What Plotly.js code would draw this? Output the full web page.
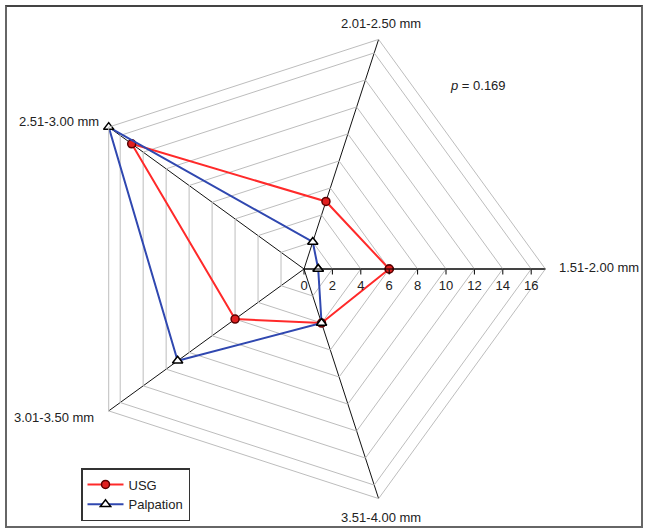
<!DOCTYPE html>
<html>
<head>
<meta charset="utf-8">
<script src="https://cdn.plot.ly/plotly-3.0.1.min.js"></script>
<style>
html,body{margin:0;padding:0;background:#fff;}
#wrap{position:relative;width:646px;height:531px;}
#plot{width:646px;height:531px;}
#frame{position:absolute;left:5px;top:5px;width:638px;height:523px;border:2px solid #666;border-top-color:#444;box-sizing:border-box;pointer-events:none;}
</style>
</head>
<body>
<div id="wrap"><div id="plot"></div><div id="frame"></div></div>
<script>
const categories = ["1.51-2.00 mm", "2.01-2.50 mm", "2.51-3.00 mm", "3.01-3.50 mm", "3.51-4.00 mm"];
const usgValues = [6, 5, 15, 6, 4];
const palpationValues = [1, 2, 17, 11, 4];
const radialTicks = [0, 2, 4, 6, 8, 10, 12, 14, 16];
const radialTickText = ["0", "2", "4", "6", "8", "10", "12", "14", "16"];

function closed(a){ return a.concat([a[0]]); }

const traces = [
  {
    type: 'scatterpolar', name: 'USG',
    r: closed(usgValues), theta: closed(categories),
    mode: 'lines+markers',
    line: {color: '#ff2a2a', width: 2},
    marker: {symbol: 'circle', size: 8, color: '#e02020', line: {color: '#5a0000', width: 1.5}}
  },
  {
    type: 'scatterpolar', name: 'Palpation',
    r: closed(palpationValues), theta: closed(categories),
    mode: 'lines+markers',
    line: {color: '#3048b0', width: 2},
    marker: {symbol: 'triangle-up', size: 9, color: '#ffffff', line: {color: '#000000', width: 1.5}}
  }
];

const W = 646, H = 531;
const cx = 304, cy = 269, R = 241.4;

// label placements (pixel) for the category names
const labelPos = [
  {x: 557, y: 267, anchor: 'left'},
  {x: 381, y: 23, anchor: 'center'},
  {x: 17, y: 122, anchor: 'left'},
  {x: 12, y: 417, anchor: 'left'},
  {x: 381, y: 517, anchor: 'center'}
];

const annotations = categories.map((c, i) => ({
  xref: 'paper', yref: 'paper', x: labelPos[i].x / W, y: 1 - labelPos[i].y / H,
  xanchor: labelPos[i].anchor, yanchor: 'middle', text: c, showarrow: false,
  font: {size: 13, color: '#222'}
}));
annotations.push({xref: 'paper', yref: 'paper', x: 448 / W, y: 1 - 85 / H, xanchor: 'left', yanchor: 'middle',
  text: '<i>p</i> = 0.169', showarrow: false, font: {size: 13, color: '#222'}});

const layout = {
  width: W, height: H,
  margin: {l: 0, r: 0, t: 0, b: 0},
  paper_bgcolor: '#ffffff',
  font: {family: 'Liberation Sans, Arial, sans-serif', size: 13, color: '#222'},
  showlegend: true,
  legend: {
    x: 81 / W, y: 1 - 468 / H, xanchor: 'left', yanchor: 'top',
    bordercolor: '#333', borderwidth: 1.5, bgcolor: '#fff',
    font: {size: 13, color: '#222'}, tracegroupgap: 0, itemwidth: 36
  },
  polar: {
    domain: {x: [(cx - R) / W, (cx + R) / W], y: [1 - (cy + R) / H, 1 - (cy - R) / H]},
    gridshape: 'linear',
    bgcolor: '#ffffff',
    radialaxis: {
      range: [0, 17], tickvals: radialTicks, ticktext: radialTickText,
      angle: 0, side: 'clockwise',
      showline: true, linecolor: '#000', linewidth: 1,
      ticks: 'outside', ticklen: 5, tickcolor: '#000',
      showgrid: true, gridcolor: '#bdbdbd', gridwidth: 1,
      tickfont: {size: 13, color: '#222'}, tickangle: 0
    },
    angularaxis: {
      type: 'category', categoryarray: categories,
      direction: 'counterclockwise', rotation: 0,
      showline: true, linecolor: '#bdbdbd', linewidth: 1,
      gridcolor: '#111', gridwidth: 1,
      ticks: '', showticklabels: false
    }
  },
  annotations: annotations
};

Plotly.newPlot('plot', traces, layout, {displayModeBar: false, staticPlot: true});
</script>
</body>
</html>
